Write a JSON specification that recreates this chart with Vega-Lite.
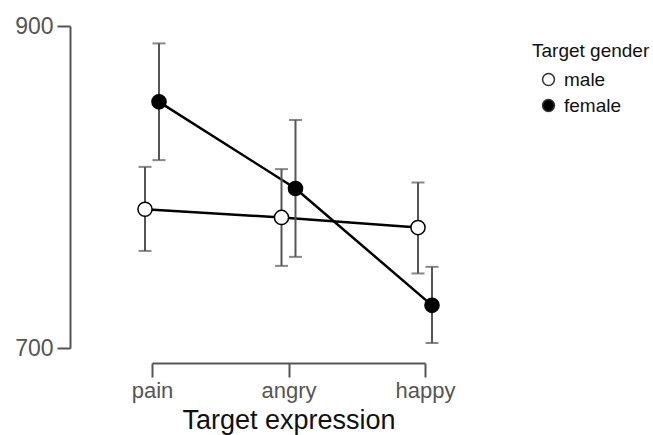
{
  "$schema": "https://vega.github.io/schema/vega-lite/v6.json",
  "autosize": {"type": "none"},
  "width": 273,
  "height": 322,
  "padding": {"left": 152, "top": 26, "right": 228, "bottom": 87},
  "background": "white",
  "config": {
    "view": {"stroke": null},
    "font": "Liberation Sans"
  },
  "data": {
    "values": [
      {"expression": "pain", "gender": "male", "mean": 786.2, "lo": 760.3, "hi": 812.5},
      {"expression": "pain", "gender": "female", "mean": 852.9, "lo": 816.7, "hi": 889.2},
      {"expression": "angry", "gender": "male", "mean": 781.1, "lo": 751.0, "hi": 811.1},
      {"expression": "angry", "gender": "female", "mean": 799.1, "lo": 756.6, "hi": 841.6},
      {"expression": "happy", "gender": "male", "mean": 774.8, "lo": 746.3, "hi": 802.8},
      {"expression": "happy", "gender": "female", "mean": 726.5, "lo": 703.1, "hi": 750.4}
    ]
  },
  "encoding": {
    "x": {
      "field": "expression",
      "type": "nominal",
      "sort": ["pain", "angry", "happy"],
      "scale": {"type": "point", "padding": 0},
      "axis": {
        "title": "Target expression",
        "labelAngle": 0,
        "offset": 15,
        "domainColor": "#555",
        "domainWidth": 2,
        "tickColor": "#555",
        "tickWidth": 2,
        "tickSize": 14,
        "labelFontSize": 22,
        "labelColor": "#555",
        "labelPadding": 3,
        "titleFontSize": 27,
        "titleFontWeight": "normal",
        "titleColor": "#111",
        "titlePadding": 6,
        "grid": false
      }
    },
    "xOffset": {
      "field": "gender",
      "type": "nominal",
      "sort": ["male", "female"],
      "scale": {"type": "point", "padding": 0, "range": [-7, 7]}
    }
  },
  "layer": [
    {
      "mark": {"type": "line", "color": "black", "strokeWidth": 2.5},
      "encoding": {
        "y": {
          "field": "mean",
          "type": "quantitative",
          "scale": {"domain": [700, 900], "nice": false, "zero": false},
          "axis": {
            "title": null,
            "values": [700, 900],
            "offset": 82,
            "domainColor": "#555",
            "domainWidth": 2,
            "tickColor": "#555",
            "tickWidth": 2,
            "tickSize": 13,
            "labelFontSize": 23,
            "labelColor": "#555",
            "labelPadding": 4,
            "grid": false
          }
        },
        "detail": {"field": "gender"}
      }
    },
    {
      "mark": {"type": "rule", "color": "#555", "strokeWidth": 2},
      "encoding": {
        "y": {"field": "lo", "type": "quantitative"},
        "y2": {"field": "hi"}
      }
    },
    {
      "mark": {"type": "tick", "color": "#555", "thickness": 2, "size": 13, "orient": "horizontal"},
      "encoding": {"y": {"field": "lo", "type": "quantitative"}}
    },
    {
      "mark": {"type": "tick", "color": "#555", "thickness": 2, "size": 13, "orient": "horizontal"},
      "encoding": {"y": {"field": "hi", "type": "quantitative"}}
    },
    {
      "mark": {"type": "point", "shape": "circle", "filled": true, "size": 200, "stroke": "black", "strokeWidth": 1.5, "opacity": 1},
      "encoding": {
        "y": {"field": "mean", "type": "quantitative"},
        "fill": {
          "field": "gender",
          "type": "nominal",
          "sort": ["male", "female"],
          "scale": {"domain": ["male", "female"], "range": ["white", "black"]},
          "legend": {
            "title": "Target gender",
            "orient": "none",
            "legendX": 380,
            "legendY": 16,
            "titleFontSize": 19,
            "titleFontWeight": "normal",
            "titleColor": "#111",
            "titlePadding": 9,
            "labelFontSize": 19,
            "labelColor": "#111",
            "symbolType": "circle",
            "symbolSize": 140,
            "symbolStrokeColor": "#333",
            "symbolStrokeWidth": 1.5,
            "symbolOffset": 7,
            "rowPadding": 6,
            "labelOffset": 6
          }
        }
      }
    }
  ]
}
